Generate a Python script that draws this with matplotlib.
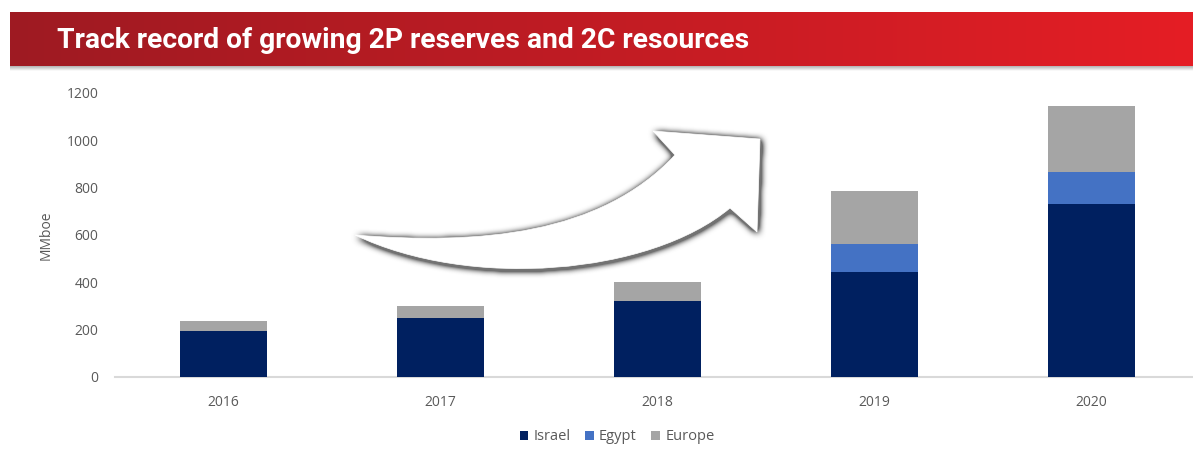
import numpy as np
import matplotlib
matplotlib.use("Agg")
import matplotlib.pyplot as plt
from matplotlib.path import Path
from matplotlib.patches import PathPatch, Patch

# ---- data -------------------------------------------------------------
years = ["2016", "2017", "2018", "2019", "2020"]
israel = [196, 249, 321, 442, 730]
egypt = [0, 0, 0, 119, 135]
europe = [42, 52, 82, 222, 277]
series_names = ["Israel", "Egypt", "Europe"]
series_colors = ["#002060", "#4472C4", "#A5A5A5"]
y_ticks = [0, 200, 400, 600, 800, 1000, 1200]
title = "Track record of growing 2P reserves and 2C resources"
y_label = "MMboe"

W, H = 1193, 454
fig = plt.figure(figsize=(W / 100, H / 100), dpi=100)
fig.patch.set_facecolor("white")

label_font = ["Open Sans", "DejaVu Sans"]
text_grey = "#595959"

# ---- bar chart --------------------------------------------------------
left_px, right_px, top_px, bottom_px = 115, 1193, 92.7, 377
ax = fig.add_axes([left_px / W, 1 - bottom_px / H,
                   (right_px - left_px) / W, (bottom_px - top_px) / H])
x = np.arange(len(years))
bw = 0.4
b1 = np.array(israel)
b2 = b1 + np.array(egypt)
ax.bar(x, israel, bw, color=series_colors[0], zorder=3)
ax.bar(x, egypt, bw, bottom=b1, color=series_colors[1], zorder=3)
ax.bar(x, europe, bw, bottom=b2, color=series_colors[2], zorder=3)

ax.set_xlim(-0.5, 4.5 - 7 / 217)
ax.set_ylim(0, 1200)
ax.set_yticks(y_ticks)
ax.set_xticks(x)
ax.set_xticklabels(years)
for s in ["top", "right", "left"]:
    ax.spines[s].set_visible(False)
ax.spines["bottom"].set_color("#D9D9D9")
ax.spines["bottom"].set_linewidth(1.5)
ax.tick_params(axis="both", length=0, colors=text_grey, labelsize=10)
ax.tick_params(axis="y", pad=12)
ax.tick_params(axis="x", pad=13)
for lab in ax.get_xticklabels() + ax.get_yticklabels():
    lab.set_family(label_font)
ax.set_ylabel(y_label, color=text_grey, fontsize=10, family=label_font,
              labelpad=9)

handles = [Patch(facecolor=c, edgecolor="none") for c in series_colors]
leg = fig.legend(handles, series_names, loc="center",
                 bbox_to_anchor=(617 / W, 1 - 437 / H), ncol=3, frameon=False,
                 handlelength=0.6, handleheight=0.6, handletextpad=0.35,
                 columnspacing=1.0, prop={"family": label_font, "size": 10.5})
for t in leg.get_texts():
    t.set_color(text_grey)

# ---- overlay in pixel coordinates (banner + arrow) --------------------
ov = fig.add_axes([0, 0, 1, 1], zorder=5)
ov.set_xlim(0, W)
ov.set_ylim(H, 0)
ov.axis("off")
ov.patch.set_alpha(0)

# banner gradient
grad = np.linspace(0, 1, 512)
c_left = np.array([158, 26, 34]) / 255
c_right = np.array([229, 30, 37]) / 255
band = c_left[None, :] * (1 - grad[:, None]) + c_right[None, :] * grad[:, None]
ov.imshow(band[None, :, :], extent=[10, W, 66, 12], aspect="auto",
          interpolation="bilinear", zorder=2)
# soft shadow below the banner
sh = np.linspace(0.55, 0.0, 20)
shadow_rgba = np.zeros((20, 1, 4))
shadow_rgba[:, :, :3] = 0.45
shadow_rgba[:, 0, 3] = sh
ov.imshow(shadow_rgba, extent=[10, W, 71, 66], aspect="auto",
          interpolation="bilinear", zorder=1)
ov.text(57, 40, title, color="white", fontsize=20.3, fontweight="bold",
        family=["Roboto", "DejaVu Sans"], va="center", ha="left", zorder=3)

# curved arrow outline
verts = [
    (355, 235),
    (480, 245), (600, 235), (675, 155),
    (653, 131),
    (760, 139),
    (757, 232),
    (730, 208),
    (650, 275), (470, 290), (355, 235),
    (355, 235),
]
codes = [Path.MOVETO,
         Path.CURVE4, Path.CURVE4, Path.CURVE4,
         Path.LINETO, Path.LINETO, Path.LINETO, Path.LINETO,
         Path.CURVE4, Path.CURVE4, Path.CURVE4,
         Path.CLOSEPOLY]
arrow = Path(verts, codes)

# blurred glow/shadow around the arrow
x0, x1, y0, y1 = 300, 820, 90, 320
gx, gy = np.meshgrid(np.arange(x0, x1) + 0.5, np.arange(y0, y1) + 0.5)
mask = arrow.contains_points(np.c_[gx.ravel() - 1, gy.ravel() - 1.5]).reshape(gx.shape)
m = mask.astype(float)


def box_blur(a, r):
    k = np.ones(2 * r + 1) / (2 * r + 1)
    a = np.apply_along_axis(lambda v: np.convolve(v, k, mode="same"), 0, a)
    a = np.apply_along_axis(lambda v: np.convolve(v, k, mode="same"), 1, a)
    return a


for _ in range(3):
    m = box_blur(m, 3)
shadow = np.zeros(m.shape + (4,))
shadow[..., :3] = 0.35
shadow[..., 3] = np.clip(m * 2.6, 0, 0.85)
ov.imshow(shadow, extent=[x0, x1, y1, y0], aspect="auto",
          interpolation="bilinear", zorder=6)
ov.add_patch(PathPatch(arrow, facecolor="white", edgecolor="white",
                       linewidth=0.5, zorder=7))

fig.savefig("out.png", dpi=100)
